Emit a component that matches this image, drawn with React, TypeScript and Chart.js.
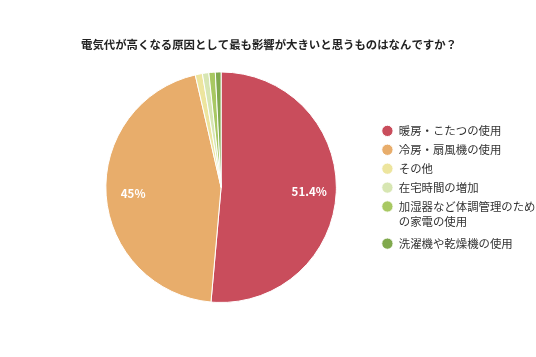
import React, { useEffect, useRef } from "react";
import { Chart, registerables } from "chart.js";

Chart.register(...registerables);

const titleText = "電気代が高くなる原因として最も影響が大きいと思うものはなんですか？";
const categories: (string | string[])[] = [
  "暖房・こたつの使用",
  "冷房・扇風機の使用",
  "その他",
  "在宅時間の増加",
  ["加湿器など体調管理のため", "の家電の使用"],
  "洗濯機や乾燥機の使用",
];
const values = [51.4, 45, 1.0, 0.9, 0.9, 0.8];
const colors = ["#c94d5c", "#e8ad6b", "#ede59e", "#d7e6b2", "#a8c862", "#80a94d"];
const labelThreshold = 5;

const FONT = "'Noto Sans CJK JP', 'Noto Sans', sans-serif";

const pctLabels = {
  id: "pctLabels",
  afterDatasetsDraw(chart: any) {
    const ctx = chart.ctx;
    const meta = chart.getDatasetMeta(0);
    ctx.save();
    ctx.fillStyle = "#ffffff";
    ctx.font = `bold 11.5px ${FONT}`;
    ctx.textAlign = "center";
    ctx.textBaseline = "middle";
    meta.data.forEach((arc: any, i: number) => {
      const v = values[i];
      if (v < labelThreshold) return;
      const p = arc.getProps(["x", "y", "startAngle", "endAngle", "outerRadius"], true);
      const mid = (p.startAngle + p.endAngle) / 2;
      const r = p.outerRadius * 0.765;
      ctx.fillText(`${v}%`, p.x + Math.cos(mid) * r, p.y + Math.sin(mid) * r);
    });
    ctx.restore();
  },
};

const titlePlugin = {
  id: "customTitle",
  afterDraw(chart: any) {
    const ctx = chart.ctx;
    ctx.save();
    ctx.fillStyle = "#222222";
    ctx.font = `bold 11.4px ${FONT}`;
    ctx.textAlign = "center";
    ctx.textBaseline = "middle";
    ctx.fillText(titleText, chart.width / 2 + 1, 45);
    ctx.restore();
  },
};

export default function App() {
  const ref = useRef<HTMLCanvasElement | null>(null);
  useEffect(() => {
    document.body.style.margin = "0";
    const chart = new Chart(ref.current as HTMLCanvasElement, {
      type: "pie",
      data: {
        labels: categories as any,
        datasets: [
          {
            data: values,
            backgroundColor: colors,
            borderColor: "#ffffff",
            borderWidth: 1,
          },
        ],
      },
      plugins: [pctLabels, titlePlugin],
      options: {
        animation: false,
        responsive: false,
        layout: { padding: { top: 71.5, bottom: 54, left: 68, right: -9.5 } },
        plugins: {
          title: { display: false },
          legend: {
            position: "right",
            labels: {
              usePointStyle: true,
              pointStyle: "circle",
              boxHeight: 8,
              color: "#333333",
              font: { family: FONT, size: 11.4, lineHeight: 1.3 },
              padding: 7.5,
            },
          },
          tooltip: { enabled: false },
        },
      },
    });
    return () => chart.destroy();
  }, []);
  return (
    <div style={{ width: 536, height: 357, position: "relative", overflow: "hidden" }}>
      <canvas ref={ref} width={536} height={357} style={{ display: "block" }} />
    </div>
  );
}
